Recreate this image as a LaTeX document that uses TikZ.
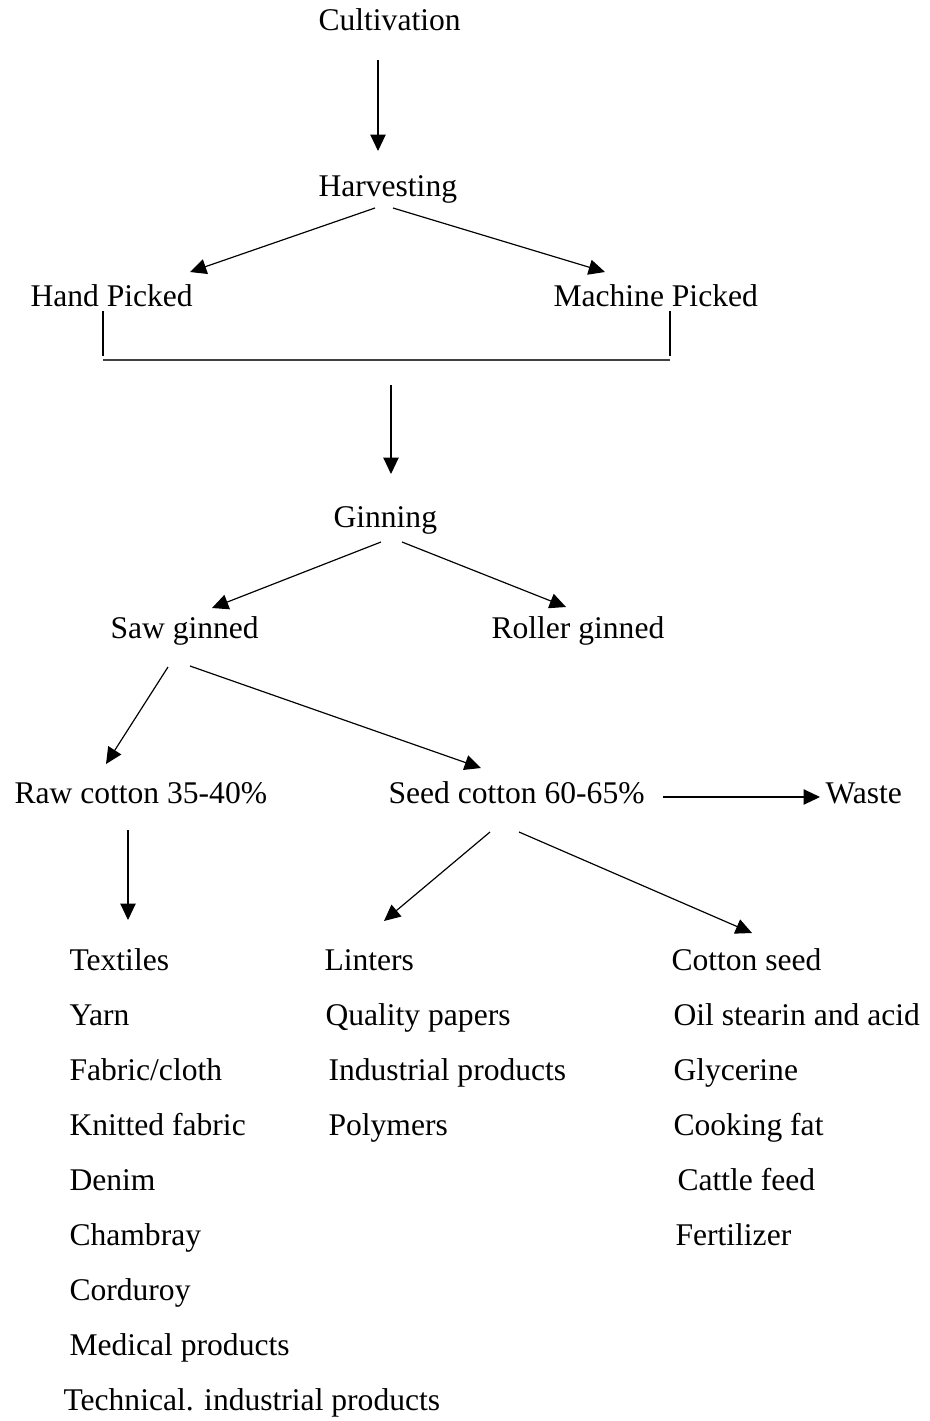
\documentclass[tikz,border=0pt]{standalone}
\usepackage{fontspec}
\setmainfont{Liberation Serif}
\usetikzlibrary{arrows.meta}
\begin{document}
\begin{tikzpicture}[x=0.38pt,y=-0.38pt,
  lbl/.style={anchor=base west,inner sep=0pt,font=\fontsize{12}{14}\selectfont},
  arr/.style={line width=0.45pt,-{Triangle[length=6.2pt,width=5.8pt]}},
  ln/.style={line width=0.45pt},
  brk/.style={line width=0.8pt,black!75}]
\useasboundingbox (0,0) rectangle (930,1421);
% main nodes
\node[lbl] (cult) at (318,31) {Cultivation};
\node[lbl] (harv) at (318,196) {Harvesting};
\node[lbl] (hand) at (30,306) {Hand Picked};
\node[lbl] (mach) at (553,306) {Machine Picked};
\node[lbl] (ginn) at (333,527) {Ginning};
\node[lbl] (saw) at (110,638) {Saw ginned};
\node[lbl] (roll) at (491,638) {Roller ginned};
\node[lbl] (raw) at (14,803) {Raw cotton 35-40\%};
\node[lbl] (seed) at (388,803) {Seed cotton 60-65\%};
\node[lbl] (waste) at (825,803) {Waste};
% product lists
\node[lbl] (tex) at (69,970) {Textiles};
\node[lbl] at (69,1025) {Yarn};
\node[lbl] at (69,1080) {Fabric/cloth};
\node[lbl] at (69,1135) {Knitted fabric};
\node[lbl] at (69,1190) {Denim};
\node[lbl] at (69,1245) {Chambray};
\node[lbl] at (69,1300) {Corduroy};
\node[lbl] at (69,1355) {Medical products};
\node[lbl] at (63,1410) {Technical. industrial products};
\node[lbl] (lint) at (324,970) {Linters};
\node[lbl] at (325,1025) {Quality papers};
\node[lbl] at (328,1080) {Industrial products};
\node[lbl] at (328,1135) {Polymers};
\node[lbl] (cs) at (671,970) {Cotton seed};
\node[lbl] at (673,1025) {Oil stearin and acid};
\node[lbl] at (673,1080) {Glycerine};
\node[lbl] at (673,1135) {Cooking fat};
\node[lbl] at (677,1190) {Cattle feed};
\node[lbl] at (675,1245) {Fertilizer};
% connector end points
\coordinate (c1) at (378,60);   \coordinate (h1) at (378,151);
\coordinate (h2) at (375,208);  \coordinate (hp) at (190,272);
\coordinate (h3) at (393,208);  \coordinate (mp) at (605,272);
\coordinate (b1) at (103,311);  \coordinate (b2) at (103,360);
\coordinate (b3) at (670,360);  \coordinate (b4) at (670,311);
\coordinate (g0) at (391,385);  \coordinate (g1) at (391,474);
\coordinate (g2) at (381,542);  \coordinate (sg) at (212,608);
\coordinate (g3) at (402,542);  \coordinate (rg) at (566,607);
\coordinate (s1) at (168,667);  \coordinate (rc) at (106,764);
\coordinate (s2) at (190,666);  \coordinate (sc) at (481,768);
\coordinate (w1) at (663,797);  \coordinate (w2) at (820,797);
\coordinate (r1) at (128,830);  \coordinate (r2) at (128,920);
\coordinate (e1) at (490,832);  \coordinate (e2) at (384,921);
\coordinate (e3) at (519,832);  \coordinate (e4) at (752,933);
% connectors
\draw[arr] (c1) -- (h1);
\draw[arr] (h2) -- (hp);
\draw[arr] (h3) -- (mp);
\draw[ln] (b1) -- (103,356);
\draw[ln] (b4) -- (670,356);
\draw[brk] (b2) -- (b3);
\draw[arr] (g0) -- (g1);
\draw[arr] (g2) -- (sg);
\draw[arr] (g3) -- (rg);
\draw[arr] (s1) -- (rc);
\draw[arr] (s2) -- (sc);
\draw[arr] (w1) -- (w2);
\draw[arr] (r1) -- (r2);
\draw[arr] (e1) -- (e2);
\draw[arr] (e3) -- (e4);
\end{tikzpicture}
\end{document}
